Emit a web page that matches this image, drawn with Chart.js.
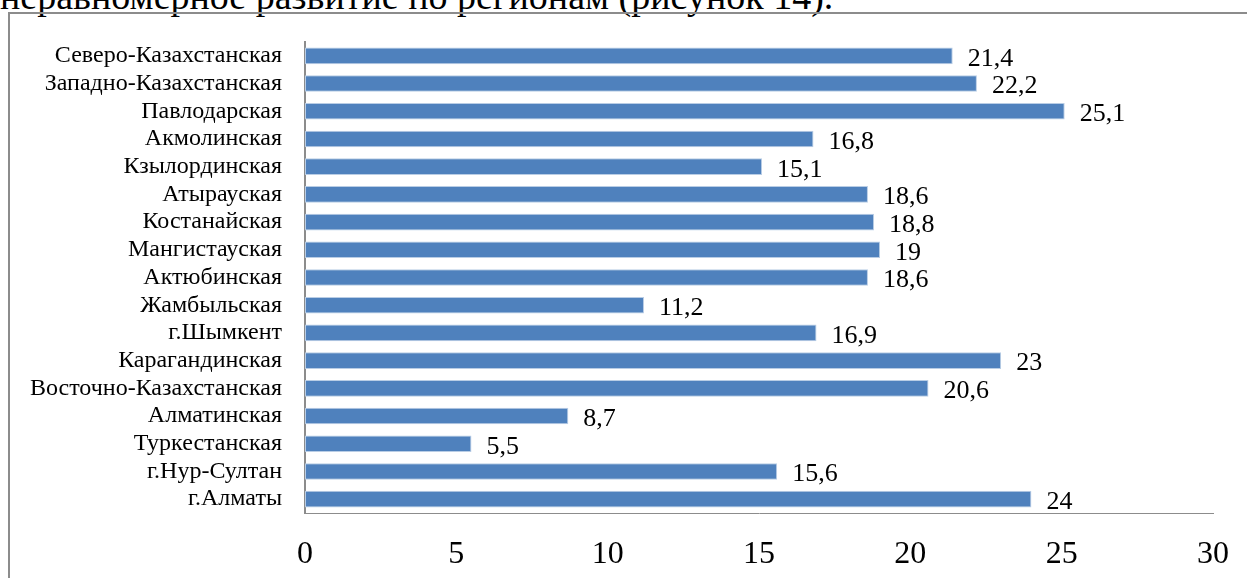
<!DOCTYPE html>
<html><head><meta charset="utf-8">
<script src="https://cdn.jsdelivr.net/npm/chart.js@4"></script>
<style>
html,body{margin:0;padding:0;background:#fff;overflow:hidden;}
#wrap{position:relative;width:1247px;height:578px;}
#top{position:absolute;left:0;top:-23px;font-family:"Liberation Serif";font-size:38px;line-height:1;color:#000;white-space:nowrap;}
#box{position:absolute;left:8px;top:12px;width:1260px;height:600px;border:2px solid #8c8c8c;box-sizing:border-box;}
canvas{position:absolute;left:0;top:0;}
</style></head><body>
<div id="wrap">
<div id="top">неравномерное развитие по регионам (рисунок 14).</div>
<div id="box"></div>
<canvas id="c" width="1247" height="578"></canvas>
</div>
<script>
const categories = ["Северо-Казахстанская","Западно-Казахстанская","Павлодарская","Акмолинская","Кзылординская","Атырауская","Костанайская","Мангистауская","Актюбинская","Жамбыльская","г.Шымкент","Карагандинская","Восточно-Казахстанская","Алматинская","Туркестанская","г.Нур-Султан","г.Алматы"];
const values = [21.4,22.2,25.1,16.8,15.1,18.6,18.8,19,18.6,11.2,16.9,23,20.6,8.7,5.5,15.6,24];
const xTicks = [0,5,10,15,20,25,30];

const valueLabels = {
  id:'valueLabels',
  afterDatasetsDraw(chart){
    const ctx = chart.ctx;
    const meta = chart.getDatasetMeta(0);
    ctx.save();
    ctx.font = '26px "Liberation Serif"';
    ctx.fillStyle = '#000';
    ctx.textBaseline = 'middle';
    ctx.textAlign = 'left';
    meta.data.forEach((bar,i)=>{
      ctx.fillText(String(values[i]).replace('.',','), bar.x + 15, bar.y + 3);
    });
    ctx.restore();
  }
};

new Chart(document.getElementById('c'),{
  type:'bar',
  data:{labels:categories,datasets:[{data:values,backgroundColor:'#4F81BD',borderColor:'#B9CDE5',borderWidth:1,borderSkipped:false,categoryPercentage:1,barPercentage:0.6}]},
  options:{
    indexAxis:'y',
    responsive:false,
    animation:false,
    events:[],
    layout:{padding:{left:10,right:34,top:42,bottom:0}},
    plugins:{legend:{display:false},tooltip:{enabled:false}},
    scales:{
      x:{min:0,max:30,
        afterBuildTicks(a){a.ticks = xTicks.map(v=>({value:v}));},
        grid:{display:false},
        border:{display:true,color:'#8c8c8c',width:1},
        ticks:{color:'#000',font:{family:'Liberation Serif',size:32},padding:14,maxRotation:0},
        afterFit(a){a.height = 578-513;}
      },
      y:{
        grid:{display:false},
        border:{display:true,color:'#8c8c8c',width:2},
        ticks:{color:'#000',font:{family:'Liberation Serif',size:24},padding:15,autoSkip:false},
        afterFit(a){a.width = 305-10;}
      }
    }
  },
  plugins:[valueLabels]
});
</script>
</body></html>
